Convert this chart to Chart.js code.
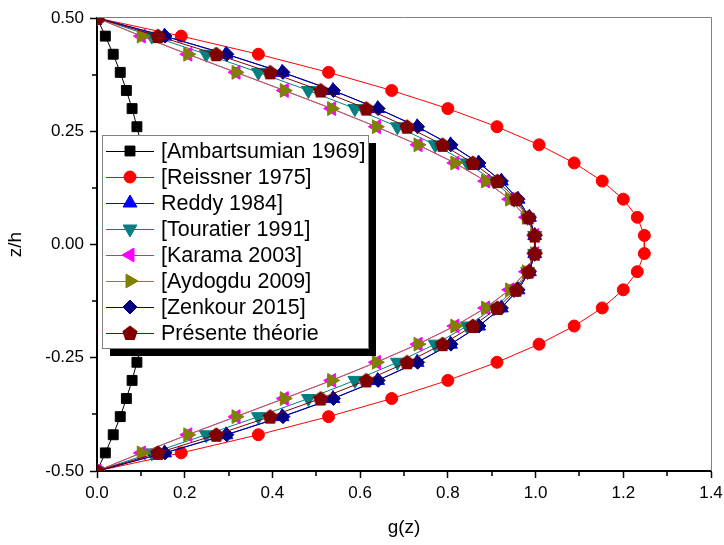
<!DOCTYPE html>
<html>
<head>
<meta charset="utf-8">
<script src="https://cdn.jsdelivr.net/npm/chart.js@4.4.0/dist/chart.umd.min.js"></script>
<style>
html, body { margin: 0; padding: 0; background: #fff; }
</style>
</head>
<body>
<canvas id="chart" width="724" height="545"></canvas>
<script>
// z/h positions of the points (top to bottom)
const zValues = [0.50, 0.46, 0.42, 0.38, 0.34, 0.30, 0.26, 0.22, 0.18, 0.14, 0.10, 0.06, 0.02,
                 -0.02, -0.06, -0.10, -0.14, -0.18, -0.22, -0.26, -0.30, -0.34, -0.38, -0.42, -0.46, -0.50];

// g(z)
const ambartsumian = [0, 0.019, 0.037, 0.053, 0.067, 0.080, 0.091, 0.101, 0.109, 0.115, 0.120, 0.123, 0.125,
                      0.125, 0.123, 0.120, 0.115, 0.109, 0.101, 0.091, 0.080, 0.067, 0.053, 0.037, 0.019, 0];
const reissner = [0, 0.192, 0.368, 0.528, 0.672, 0.800, 0.912, 1.008, 1.088, 1.152, 1.200, 1.232, 1.248,
                  1.248, 1.232, 1.200, 1.152, 1.088, 1.008, 0.912, 0.800, 0.672, 0.528, 0.368, 0.192, 0];
const reddy = [0, 0.154, 0.294, 0.422, 0.538, 0.640, 0.730, 0.806, 0.870, 0.922, 0.960, 0.986, 0.998,
               0.998, 0.986, 0.960, 0.922, 0.870, 0.806, 0.730, 0.640, 0.538, 0.422, 0.294, 0.154, 0];
const touratier = [0, 0.125, 0.249, 0.368, 0.482, 0.588, 0.685, 0.771, 0.844, 0.905, 0.951, 0.982, 0.998,
                   0.998, 0.982, 0.951, 0.905, 0.844, 0.771, 0.685, 0.588, 0.482, 0.368, 0.249, 0.125, 0];
const karama = [0, 0.101, 0.207, 0.317, 0.427, 0.535, 0.637, 0.732, 0.816, 0.886, 0.941, 0.979, 0.998,
                0.998, 0.979, 0.941, 0.886, 0.816, 0.732, 0.637, 0.535, 0.427, 0.317, 0.207, 0.101, 0];
const aydogdu = [0, 0.101, 0.207, 0.317, 0.427, 0.535, 0.637, 0.732, 0.816, 0.886, 0.941, 0.979, 0.998,
                 0.998, 0.979, 0.941, 0.886, 0.816, 0.732, 0.637, 0.535, 0.427, 0.317, 0.207, 0.101, 0];
const zenkour = [0, 0.155, 0.296, 0.424, 0.539, 0.641, 0.731, 0.807, 0.871, 0.922, 0.960, 0.986, 0.998,
                 0.998, 0.986, 0.960, 0.922, 0.871, 0.807, 0.731, 0.641, 0.539, 0.424, 0.296, 0.155, 0];
const presente = [0, 0.139, 0.272, 0.395, 0.510, 0.614, 0.707, 0.788, 0.857, 0.913, 0.956, 0.984, 0.998,
                  0.998, 0.984, 0.956, 0.913, 0.857, 0.788, 0.707, 0.614, 0.510, 0.395, 0.272, 0.139, 0];

const seriesLabels = ['[Ambartsumian 1969]', '[Reissner 1975]', 'Reddy 1984]', '[Touratier 1991]',
                      '[Karama 2003]', '[Aydogdu 2009]', '[Zenkour 2015]', 'Présente théorie'];
const xTicks = [0, 0.2, 0.4, 0.6, 0.8, 1.0, 1.2, 1.4];
const yTicks = [-0.50, -0.25, 0.00, 0.25, 0.50];

const FONT = 'Arial, "Liberation Sans", sans-serif';

function makePentagon(color, r) {
    const c = document.createElement('canvas');
    const s = Math.ceil(r * 2) + 2;
    c.width = s;
    c.height = s;
    const g = c.getContext('2d');
    g.fillStyle = color;
    g.beginPath();
    for (let i = 0; i < 5; i++) {
        const a = -Math.PI / 2 + i * 2 * Math.PI / 5;
        g.lineTo(s / 2 + r * Math.cos(a), s / 2 + 0.6 + r * Math.sin(a));
    }
    g.closePath();
    g.fill();
    return c;
}

const styles = [
    { line: '#000000', fill: '#000000', point: 'rect', radius: 7, rotation: 0 },
    { line: '#ff0000', fill: '#ff0000', point: 'circle', radius: 6, rotation: 0 },
    { line: '#0000ff', fill: '#0000ff', point: 'triangle', radius: 8, rotation: 0 },
    { line: '#008080', fill: '#008080', point: 'triangle', radius: 8, rotation: 180 },
    { line: '#ff00ff', fill: '#ff00ff', point: 'triangle', radius: 8, rotation: 270 },
    { line: '#a0703c', fill: '#808000', point: 'triangle', radius: 8, rotation: 90 },
    { line: '#000080', fill: '#000080', point: 'rectRot', radius: 7, rotation: 0 },
    { line: '#800000', fill: '#800000', point: makePentagon('#800000', 8), radius: 8, rotation: 0 }
];

const allSeries = [ambartsumian, reissner, reddy, touratier, karama, aydogdu, zenkour, presente];

const datasets = allSeries.map((vals, i) => ({
    label: seriesLabels[i],
    data: vals.map((g, k) => ({ x: g, y: zValues[k] })),
    showLine: true,
    borderColor: styles[i].line,
    borderWidth: 1,
    pointStyle: styles[i].point,
    pointRadius: styles[i].radius,
    pointHoverRadius: styles[i].radius,
    pointRotation: styles[i].rotation,
    pointBackgroundColor: styles[i].fill,
    pointBorderColor: styles[i].fill,
    pointBorderWidth: 1,
    order: allSeries.length - i
}));

const decorPlugin = {
    id: 'decor',
    beforeDatasetsDraw(chart) {
        const { ctx, chartArea } = chart;
        ctx.save();
        ctx.strokeStyle = '#808080';
        ctx.lineWidth = 1;
        ctx.beginPath();
        ctx.moveTo(chartArea.left, chartArea.top - 0.5);
        ctx.lineTo(chartArea.right + 0.5, chartArea.top - 0.5);
        ctx.lineTo(chartArea.right + 0.5, chartArea.bottom);
        ctx.stroke();
        ctx.restore();
    },
    afterDraw(chart) {
        const { ctx, chartArea } = chart;
        const xs = chart.scales.x;
        const ys = chart.scales.y;
        ctx.save();
        // minor ticks
        ctx.strokeStyle = '#000';
        ctx.lineWidth = 1.5;
        ctx.beginPath();
        for (let i = 0; i < xTicks.length - 1; i++) {
            const px = Math.round(xs.getPixelForValue((xTicks[i] + xTicks[i + 1]) / 2));
            ctx.moveTo(px, chartArea.bottom);
            ctx.lineTo(px, chartArea.bottom + 5);
        }
        for (let i = 0; i < yTicks.length - 1; i++) {
            const py = Math.round(ys.getPixelForValue((yTicks[i] + yTicks[i + 1]) / 2));
            ctx.moveTo(chartArea.left, py);
            ctx.lineTo(chartArea.left - 5, py);
        }
        ctx.stroke();

        // legend box with shadow
        const bx = 102, by = 135, bw = 266, bh = 213;
        ctx.fillStyle = '#000';
        ctx.fillRect(bx + 8, by + 8, bw, bh);
        ctx.fillStyle = '#fff';
        ctx.fillRect(bx, by, bw, bh);
        ctx.strokeStyle = '#808080';
        ctx.lineWidth = 1;
        ctx.strokeRect(bx + 0.5, by + 0.5, bw, bh);

        ctx.font = '21.5px ' + FONT;
        ctx.textBaseline = 'middle';
        ctx.textAlign = 'left';
        seriesLabels.forEach((lab, i) => {
            const y = 151 + i * 26;
            ctx.strokeStyle = styles[i].line;
            ctx.lineWidth = 1;
            ctx.beginPath();
            ctx.moveTo(106, y + 0.5);
            ctx.lineTo(154, y + 0.5);
            ctx.stroke();
            ctx.fillStyle = styles[i].fill;
            ctx.strokeStyle = styles[i].fill;
            Chart.helpers.drawPoint(ctx, {
                pointStyle: styles[i].point,
                radius: styles[i].radius,
                rotation: styles[i].rotation,
                borderWidth: 1
            }, 130, y);
            ctx.fillStyle = '#000';
            ctx.fillText(lab, 161, y + 1);
        });
        ctx.restore();
    }
};

new Chart(document.getElementById('chart'), {
    type: 'scatter',
    data: { datasets: datasets },
    options: {
        responsive: false,
        animation: false,
        layout: { padding: { top: 18, right: 13, left: 0, bottom: 0 } },
        plugins: {
            legend: { display: false },
            tooltip: { enabled: false }
        },
        scales: {
            x: {
                type: 'linear',
                min: 0,
                max: 1.4,
                afterFit: s => { s.height = 74; s.paddingLeft = 0; s.paddingRight = 0; },
                afterBuildTicks: s => { s.ticks = xTicks.map(v => ({ value: v })); },
                ticks: {
                    callback: v => v.toFixed(1),
                    font: { family: FONT, size: 17 },
                    color: '#000',
                    padding: 5,
                    maxRotation: 0
                },
                grid: { drawOnChartArea: false, tickLength: 7, tickWidth: 1.5, tickColor: '#000' },
                border: { color: '#000', width: 2 },
                title: {
                    display: true,
                    text: 'g(z)',
                    font: { family: FONT, size: 19 },
                    color: '#000',
                    padding: { top: 0, bottom: 6 }
                }
            },
            y: {
                type: 'linear',
                min: -0.5,
                max: 0.5,
                afterFit: s => { s.width = 97; s.paddingTop = 0; s.paddingBottom = 0; },
                afterBuildTicks: s => { s.ticks = yTicks.map(v => ({ value: v })); },
                ticks: {
                    callback: v => v.toFixed(2),
                    font: { family: FONT, size: 17 },
                    color: '#000',
                    padding: 6
                },
                grid: { drawOnChartArea: false, tickLength: 7, tickWidth: 1.5, tickColor: '#000' },
                border: { color: '#000', width: 2 },
                title: {
                    display: true,
                    text: 'z/h',
                    font: { family: FONT, size: 19 },
                    color: '#000',
                    padding: { top: 4, bottom: 0 }
                }
            }
        }
    },
    plugins: [decorPlugin]
});
</script>
</body>
</html>
